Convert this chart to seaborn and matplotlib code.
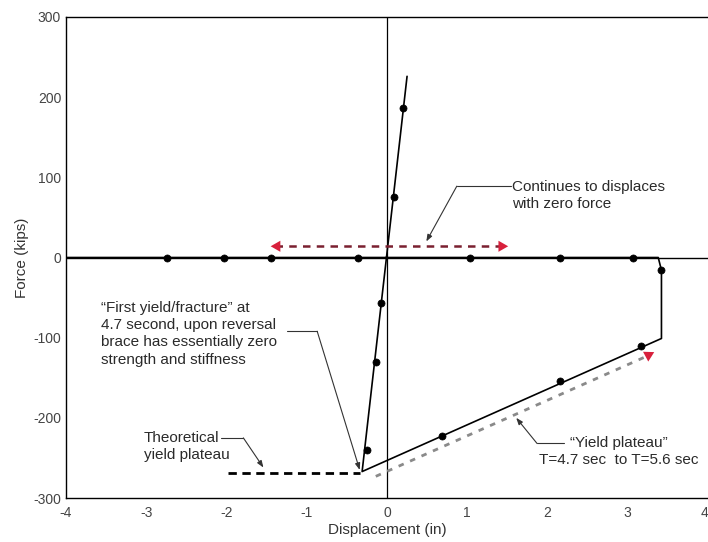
import matplotlib
matplotlib.use("Agg")
import matplotlib.pyplot as plt
import seaborn as sns
import pandas as pd

# ---- data ----
path_x = [0.25, -0.31, 3.42, 3.42, 3.38, -4.0]
path_y = [226, -267, -101, -16, 0, 0]

marker_x = [-2.74, -2.03, -1.44, -0.36, 1.03, 2.15, 3.07,
            0.20, 0.09, -0.07, -0.14, -0.25,
            3.17, 2.16, 0.68, 3.41]
marker_y = [0, 0, 0, 0, 0, 0, 0,
            186, 76, -57, -130, -240,
            -111, -154, -223, -16]

theory_x = [-1.98, -0.34]
theory_y = [-269, -269]

plateau_x = [-0.14, 3.24]
plateau_y = [-273, -123]

zero_arrow_x = [-1.40, 1.46]
zero_arrow_y = [14, 14]

x_ticks = [-4, -3, -2, -1, 0, 1, 2, 3, 4]
y_ticks = [-300, -200, -100, 0, 100, 200, 300]

sns.set_style("white")
plt.rcParams['font.family'] = ['Liberation Sans', 'DejaVu Sans']

fig = plt.figure(figsize=(7.08, 5.42), dpi=100)
ax = fig.add_axes([66/708, 44/542, 642/708, 481/542])

df_path = pd.DataFrame({"x": path_x, "y": path_y})
sns.lineplot(data=df_path, x="x", y="y", sort=False, estimator=None,
             color="black", lw=1.2, ax=ax, zorder=3)
df_m = pd.DataFrame({"x": marker_x, "y": marker_y})
sns.scatterplot(data=df_m, x="x", y="y", color="black", s=26,
                edgecolor="black", linewidth=0.5, ax=ax, zorder=4)

ax.axhline(0, color="black", lw=1.0, zorder=2)
ax.axvline(0, color="black", lw=0.9, zorder=2)

# theoretical yield plateau (black dashed)
ax.plot(theory_x, theory_y, color="black", lw=2.0, ls=(0, (3, 2)), zorder=3)
# yield plateau (gray dashed) with red arrow head
ax.plot(plateau_x, plateau_y, color="#8a8a8a", lw=2.0, ls=(0, (2, 2.5)), zorder=2)
ax.annotate("", xy=(3.33, -118), xytext=(3.18, -126),
            arrowprops=dict(arrowstyle="-|>,head_length=0.7,head_width=0.4",
                            color="#d8203c", lw=0, shrinkA=0, shrinkB=0), zorder=5)
# red double arrow (zero force)
ax.plot(zero_arrow_x, zero_arrow_y, color="#7a2030", lw=1.8, ls=(0, (3, 2.5)), zorder=3)
ax.annotate("", xy=(zero_arrow_x[0] - 0.05, 14), xytext=(zero_arrow_x[0] + 0.1, 14),
            arrowprops=dict(arrowstyle="-|>,head_length=0.7,head_width=0.4",
                            color="#d8203c", lw=0, shrinkA=0, shrinkB=0), zorder=5)
ax.annotate("", xy=(zero_arrow_x[1] + 0.05, 14), xytext=(zero_arrow_x[1] - 0.1, 14),
            arrowprops=dict(arrowstyle="-|>,head_length=0.7,head_width=0.4",
                            color="#d8203c", lw=0, shrinkA=0, shrinkB=0), zorder=5)

txt_color = "#2a2a2a"
con_color = "#333333"
fs = 11
arr = dict(arrowstyle="-|>,head_length=0.4,head_width=0.15", color=con_color,
           lw=0.8, shrinkA=0, shrinkB=0)

# Continues to displaces
ax.text(1.56, 77, "Continues to displaces\nwith zero force", fontsize=fs,
        color=txt_color, ha="left", va="center", linespacing=1.3)
ax.plot([1.55, 0.87], [89, 89], color=con_color, lw=0.8)
ax.annotate("", xy=(0.49, 20), xytext=(0.87, 89), arrowprops=arr)

# First yield/fracture
ax.text(-3.56, -95, "\u201cFirst yield/fracture\u201d at\n4.7 second, upon reversal\n"
        "brace has essentially zero\nstrength and stiffness", fontsize=fs,
        color=txt_color, ha="left", va="center", linespacing=1.3)
ax.plot([-1.25, -0.87], [-92, -92], color=con_color, lw=0.8)
ax.annotate("", xy=(-0.34, -265), xytext=(-0.87, -92), arrowprops=arr)

# Theoretical yield plateau
ax.text(-3.03, -236, "Theoretical\nyield plateau", fontsize=fs,
        color=txt_color, ha="left", va="center", linespacing=1.3)
ax.plot([-2.07, -1.79], [-225, -225], color=con_color, lw=0.8)
ax.annotate("", xy=(-1.54, -262), xytext=(-1.79, -225), arrowprops=arr)

# Yield plateau
ax.text(2.89, -242, "\u201cYield plateau\u201d\nT=4.7 sec  to T=5.6 sec", fontsize=fs,
        color=txt_color, ha="center", va="center", linespacing=1.3)
ax.plot([2.21, 1.87], [-232, -232], color=con_color, lw=0.8)
ax.annotate("", xy=(1.61, -200), xytext=(1.87, -232), arrowprops=arr)

ax.set_xlim(-4, 4)
ax.set_ylim(-300, 300)
ax.set_xticks(x_ticks)
ax.set_yticks(y_ticks)
ax.set_xticklabels([str(t) for t in x_ticks])
ax.set_yticklabels([str(t) for t in y_ticks])
ax.tick_params(direction="in", length=5, width=0.8, labelsize=10,
               labelcolor="#444444", color="#333333")
ax.tick_params(axis="x", pad=6)
ax.get_xticklabels()[-1].set_horizontalalignment("right")
ax.set_xlabel("Displacement (in)", fontsize=11, color="#333333", labelpad=2)
ax.set_ylabel("Force (kips)", fontsize=11, color="#333333", labelpad=3)
for s in ["left", "bottom", "top"]:
    ax.spines[s].set_visible(True)
    ax.spines[s].set_color("black")
    ax.spines[s].set_linewidth(1.0)
ax.spines["right"].set_visible(False)

fig.savefig("out.png", dpi=100)
